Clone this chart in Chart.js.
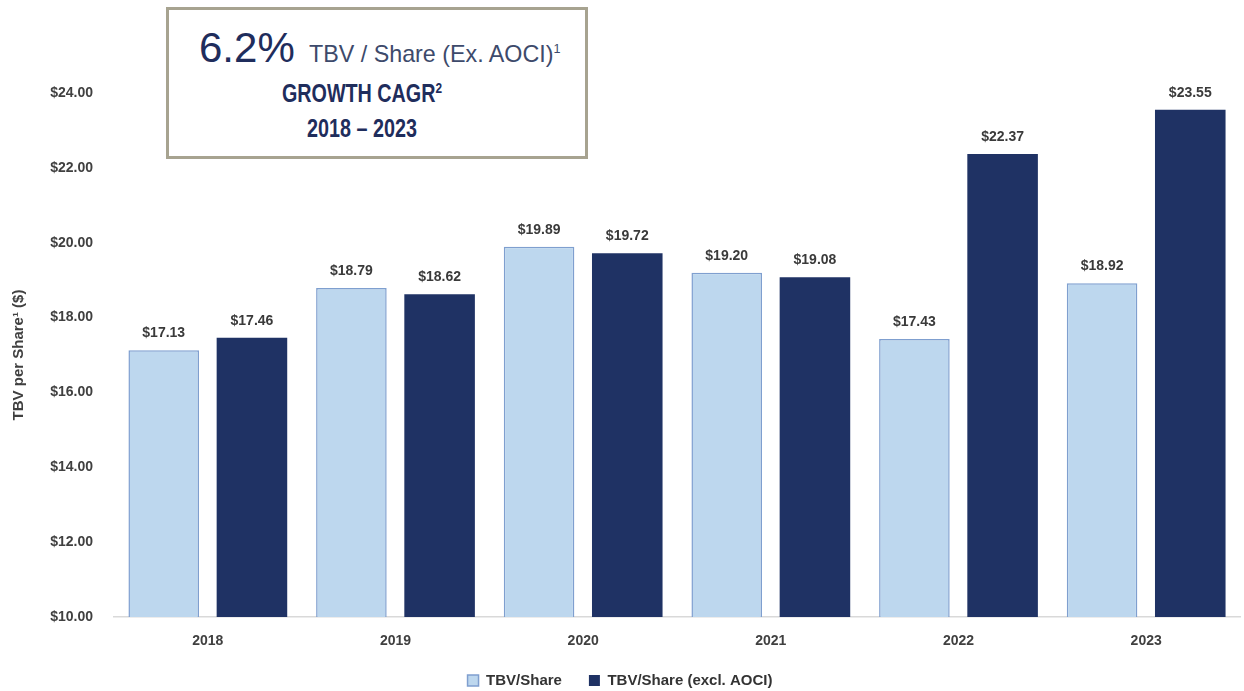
<!DOCTYPE html>
<html>
<head>
<meta charset="utf-8">
<script src="https://cdn.jsdelivr.net/npm/chart.js@4"></script>
<style>
  html, body { margin: 0; padding: 0; background: #fff; overflow: hidden; }
  #wrap { position: relative; width: 1244px; height: 691px; overflow: hidden; }
  #box {
    position: absolute; left: 166px; top: 7px; width: 416px; height: 146px;
    border: 3px solid #a7a390; background: #fff;
    font-family: "Liberation Sans Narrow", "Arial Narrow", sans-serif;
    color: #1f2d5c; text-align: center;
  }
  #box .l1 { position: absolute; left: 30px; top: 14px; white-space: nowrap; }
  #box .big { font-size: 42px; }
  #box .sub { display: inline-block; font-size: 24px; color: #3d4a6b; margin-left: 14px; transform: scaleX(0.97); transform-origin: left center; }
  #box .sub sup { font-size: 13px; }
  #box .l2, #box .l3 { position: absolute; left: 0; right: 30px; font-size: 25px; font-weight: bold; transform: scaleX(0.79); }
  #box .l2 { top: 69px; }
  #box .l2 sup { font-size: 15px; }
  #box .l3 { top: 104px; }
</style>
</head>
<body>
<div id="wrap">
  <canvas id="chart" width="1244" height="698"></canvas>
  <div id="box">
    <div class="l1"><span class="big">6.2%</span><span class="sub">TBV / Share (Ex. AOCI)<sup>1</sup></span></div>
    <div class="l2">GROWTH CAGR<sup>2</sup></div>
    <div class="l3">2018 – 2023</div>
  </div>
</div>
<script>
const years = ['2018', '2019', '2020', '2021', '2022', '2023'];
const tbvShare = [17.13, 18.79, 19.89, 19.20, 17.43, 18.92];
const tbvExAoci = [17.46, 18.62, 19.72, 19.08, 22.37, 23.55];
const seriesNames = ['TBV/Share', 'TBV/Share (excl. AOCI)'];

const FONT = '"Liberation Sans Narrow", "Arial Narrow", sans-serif';

// value labels above each bar
const barLabels = {
  id: 'barLabels',
  afterDatasetsDraw(chart) {
    const ctx = chart.ctx;
    ctx.save();
    ctx.font = 'bold 14px ' + FONT;
    ctx.fillStyle = '#3a3a3a';
    ctx.textAlign = 'center';
    ctx.textBaseline = 'bottom';
    chart.data.datasets.forEach((ds, i) => {
      chart.getDatasetMeta(i).data.forEach((bar, j) => {
        ctx.fillText('$' + ds.data[j].toFixed(2), bar.x, bar.y - 10);
      });
    });
    ctx.restore();
  }
};

new Chart(document.getElementById('chart'), {
  type: 'bar',
  data: {
    labels: years,
    datasets: [
      {
        label: seriesNames[0],
        data: tbvShare,
        backgroundColor: '#bdd7ee',
        borderColor: '#7f9fcf',
        borderWidth: 1.5,
        categoryPercentage: 0.94,
        barPercentage: 0.8
      },
      {
        label: seriesNames[1],
        data: tbvExAoci,
        backgroundColor: '#1f3264',
        borderColor: '#1f3264',
        borderWidth: 0,
        categoryPercentage: 0.94,
        barPercentage: 0.8
      }
    ]
  },
  options: {
    responsive: false,
    animation: false,
    layout: { padding: { left: 0, right: 4, top: 93, bottom: 0 } },
    plugins: {
      tooltip: { enabled: false },
      legend: {
        position: 'bottom',
        labels: {
          boxWidth: 11,
          boxHeight: 11,
          padding: 2,
          color: '#333',
          font: { family: FONT, size: 15, weight: 'bold' },
          generateLabels: chart => Chart.defaults.plugins.legend.labels.generateLabels(chart)
            .map((item, i) => Object.assign(item, { text: i === 0 ? item.text + '      ' : item.text }))
        }
      }
    },
    scales: {
      x: {
        grid: { display: false, drawTicks: false },
        border: { display: true, color: '#d9d9d9', width: 1.5 },
        ticks: { color: '#404040', padding: 16, font: { family: FONT, size: 14, weight: 'bold' } },
        afterFit: s => { s.height = 54; }
      },
      y: {
        min: 10,
        max: 24,
        grid: { display: false, drawTicks: false },
        border: { display: false },
        ticks: {
          stepSize: 2,
          color: '#404040',
          padding: 21,
          font: { family: FONT, size: 14, weight: 'bold' },
          callback: v => '$' + Number(v).toFixed(2)
        },
        title: {
          display: true,
          text: 'TBV per Share¹ ($)',
          color: '#404040',
          padding: { top: 10, bottom: 0 },
          font: { family: FONT, size: 15, weight: 'bold' }
        },
        afterFit: s => { s.width = 114; }
      }
    }
  },
  plugins: [barLabels]
});
</script>
</body>
</html>
